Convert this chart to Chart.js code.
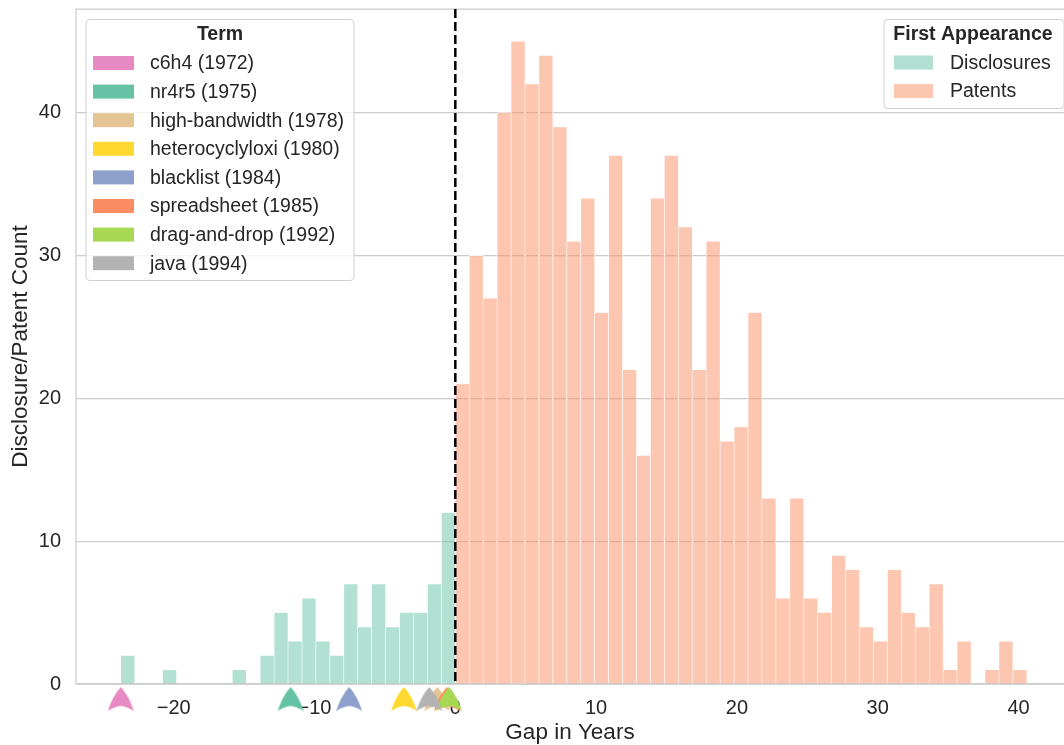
<!DOCTYPE html>
<html>
<head>
<meta charset="utf-8">
<script src="https://cdn.jsdelivr.net/npm/chart.js@4.4.0/dist/chart.umd.min.js"></script>
<style>
html, body { margin: 0; padding: 0; background: #fff; }
#wrap { width: 1064px; height: 745px; }
</style>
</head>
<body>
<div id="wrap"><canvas id="gapChart"></canvas></div>
<script>
// histogram bins, numbered from the zero gap; one bin = binWidth years
const disclosureBins = [-24,-23,-22,-21,-20,-19,-18,-17,-16,-15,-14,-13,-12,-11,-10,-9,-8,-7,-6,-5,-4,-3,-2,-1];
const disclosureCounts = [2,0,0,1,0,0,0,0,1,0,2,5,3,6,3,2,7,4,7,4,5,5,7,12];

const patentBins = [0,1,2,3,4,5,6,7,8,9,10,11,12,13,14,15,16,17,18,19,20,21,22,23,24,25,26,27,28,29,30,31,32,33,34,35,36,37,38,39,40];
const patentCounts = [21,30,27,40,45,42,44,39,31,34,26,37,22,16,34,37,32,22,31,17,18,26,13,6,13,6,5,9,8,4,3,8,5,4,7,1,3,0,1,3,1];

const binWidth = 0.99;

// terms and where they fall on the gap axis
const terms = ["c6h4 (1972)", "nr4r5 (1975)", "high-bandwidth (1978)", "heterocyclyloxi (1980)",
               "blacklist (1984)", "spreadsheet (1985)", "drag-and-drop (1992)", "java (1994)"];
const termGaps = [-23.76, -11.7, -1.28, -3.65, -7.54, -0.6, -0.45, -1.85];
const termColors = ["#e78ac3", "#66c2a5", "#e5c494", "#ffd92f", "#8da0cb", "#fc8d62", "#a6d854", "#b3b3b3"];

const xTicks = [-20, -10, 0, 10, 20, 30, 40];
const yTicks = [0, 10, 20, 30, 40];

const FONT = "'Liberation Sans', Arial, sans-serif";
const INK = "#262626";
const markerY = -1.05;

function binCentre(b) {
  return (b + 0.5) * binWidth;
}

function makeMarker(color) {
  const c = document.createElement("canvas");
  c.width = 26;
  c.height = 25;
  const g = c.getContext("2d");
  g.fillStyle = color;
  g.beginPath();
  g.moveTo(13, 0.5);
  g.quadraticCurveTo(21, 9, 26, 24.5);
  g.quadraticCurveTo(19, 20, 13, 19.5);
  g.quadraticCurveTo(7, 20, 0, 24.5);
  g.quadraticCurveTo(5, 9, 13, 0.5);
  g.fill();
  return c;
}

const markerImgs = termColors.map(makeMarker);

function drawLegend(ctx, box, title, titleX, rows) {
  ctx.save();
  ctx.beginPath();
  ctx.roundRect(box.x, box.y, box.w, box.h, 4);
  ctx.fillStyle = "rgba(255,255,255,0.8)";
  ctx.fill();
  ctx.strokeStyle = "#d0d0d0";
  ctx.lineWidth = 1;
  ctx.stroke();

  ctx.fillStyle = INK;
  ctx.textBaseline = "middle";
  ctx.textAlign = "center";
  ctx.font = "bold 19.5px " + FONT;
  ctx.fillText(title, titleX, box.titleY);

  ctx.textAlign = "left";
  ctx.font = "19.5px " + FONT;
  rows.forEach(function (r, i) {
    const y = box.rowY + i * box.step;
    ctx.fillStyle = r.color;
    ctx.fillRect(box.swX, y - 7, box.swW, 14);
    ctx.fillStyle = INK;
    ctx.fillText(r.label, box.textX, y + 1);
  });
  ctx.restore();
}

const decorations = {
  id: "decorations",
  afterDatasetsDraw(chart) {
    const { ctx, chartArea: a, scales: { x } } = chart;
    ctx.save();
    ctx.strokeStyle = "#cccccc";
    ctx.lineWidth = 1.25;
    ctx.beginPath();
    ctx.moveTo(a.left, a.bottom);
    ctx.lineTo(a.left, a.top);
    ctx.lineTo(a.right, a.top);
    ctx.moveTo(a.left, a.bottom);
    ctx.lineTo(a.right, a.bottom);
    ctx.stroke();

    const x0 = x.getPixelForValue(0);
    ctx.setLineDash([9, 4]);
    ctx.strokeStyle = "#000";
    ctx.lineWidth = 2.5;
    ctx.beginPath();
    ctx.moveTo(x0, a.top);
    ctx.lineTo(x0, a.bottom);
    ctx.stroke();
    ctx.restore();
  },
  afterDraw(chart) {
    const ctx = chart.ctx;
    drawLegend(ctx,
      { x: 86, y: 19.5, w: 268, h: 261, titleY: 35, rowY: 63, step: 28.6, swX: 93, swW: 41, textX: 150 },
      "Term", 220,
      terms.map(function (t, i) { return { label: t, color: termColors[i] }; }));
    drawLegend(ctx,
      { x: 884, y: 19.5, w: 180, h: 89, titleY: 35, rowY: 62.5, step: 28.6, swX: 894, swW: 39, textX: 950 },
      "First Appearance", 973,
      [{ label: "Disclosures", color: "rgba(102,194,165,0.5)" },
       { label: "Patents", color: "rgba(252,141,98,0.5)" }]);
  }
};

function fmtTick(v) {
  return v < 0 ? "\u2212" + Math.abs(v) : String(v);
}

// stop the tick labels from pushing the plot area inwards
function zeroPadding() {
  this.paddingTop = 0;
  this.paddingBottom = 0;
  this.paddingLeft = 0;
  this.paddingRight = 0;
}

new Chart(document.getElementById("gapChart"), {
  type: "bar",
  data: {
    datasets: [
      {
        type: "scatter",
        label: "Term",
        data: termGaps.map(function (g) { return { x: g, y: markerY }; }),
        pointStyle: markerImgs,
        pointRadius: 24,
        borderWidth: 0,
        clip: false
      },
      {
        label: "Disclosures",
        data: disclosureBins.map(function (b, i) { return { x: binCentre(b), y: disclosureCounts[i] }; }),
        backgroundColor: "rgba(102,194,165,0.5)",
        borderColor: "#ffffff",
        borderWidth: { left: 0.6, right: 0.6, top: 0.6, bottom: 0 },
        borderSkipped: false,
        grouped: false,
        categoryPercentage: 1,
        barPercentage: 1
      },
      {
        label: "Patents",
        data: patentBins.map(function (b, i) { return { x: binCentre(b), y: patentCounts[i] }; }),
        backgroundColor: "rgba(252,141,98,0.5)",
        borderColor: "#ffffff",
        borderWidth: { left: 0.6, right: 0.6, top: 0.6, bottom: 0 },
        borderSkipped: false,
        grouped: false,
        categoryPercentage: 1,
        barPercentage: 1
      }
    ]
  },
  options: {
    responsive: true,
    maintainAspectRatio: false,
    animation: false,
    events: [],
    layout: { autoPadding: false, padding: { top: 9, right: 0, left: 0, bottom: 0 } },
    plugins: { legend: { display: false }, tooltip: { enabled: false } },
    scales: {
      x: {
        type: "linear",
        min: -26.94,
        max: 43.23,
        offset: false,
        grid: { display: false },
        border: { display: false },
        ticks: {
          color: INK,
          font: { family: FONT, size: 20 },
          padding: 4,
          maxRotation: 0,
          autoSkip: false,
          callback: fmtTick
        },
        beforeFit: function (s) { s._calculatePadding = zeroPadding; },
        afterBuildTicks: function (s) { s.ticks = xTicks.map(function (v) { return { value: v }; }); },
        afterFit: function (s) { s.height = 61; },
        title: {
          display: true,
          text: "Gap in Years",
          color: INK,
          font: { family: FONT, size: 22.5, lineHeight: 1.05 },
          padding: 0
        }
      },
      y: {
        min: 0,
        max: 47.25,
        grid: { color: "#cccccc", lineWidth: 1.25, drawTicks: false },
        border: { display: false },
        ticks: {
          color: INK,
          font: { family: FONT, size: 20 },
          padding: 15
        },
        beforeFit: function (s) { s._calculatePadding = zeroPadding; },
        afterBuildTicks: function (s) { s.ticks = yTicks.map(function (v) { return { value: v }; }); },
        afterFit: function (s) { s.width = 76; },
        title: {
          display: true,
          text: "Disclosure/Patent Count",
          color: INK,
          font: { family: FONT, size: 22.5 },
          padding: { top: 7, bottom: 0 }
        }
      }
    }
  },
  plugins: [decorations]
});
</script>
</body>
</html>
